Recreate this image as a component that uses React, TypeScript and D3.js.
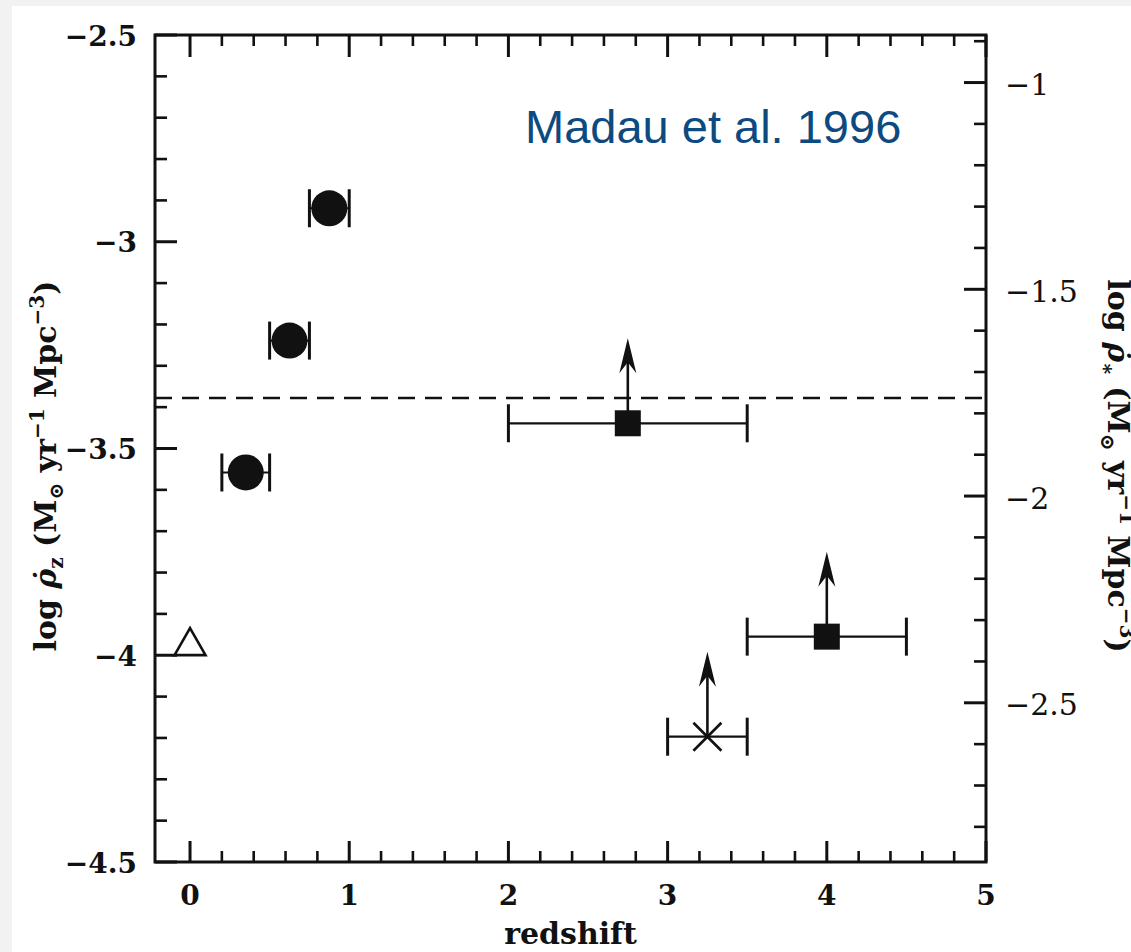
import React from "react";
import * as d3 from "d3";

// Star-formation history measurements (Madau et al. 1996)
// CFRS bins: filled circles
const circleZ = [0.35, 0.625, 0.875];
const circleZLo = [0.2, 0.5, 0.75];
const circleZHi = [0.5, 0.75, 1.0];
const circleRho = [-3.558, -3.239, -2.919];

// HDF U- and B-dropouts: filled squares (lower limits)
const squareZ = [2.75, 4.0];
const squareZLo = [2.0, 3.5];
const squareZHi = [3.5, 4.5];
const squareRho = [-3.439, -3.955];

// Cross (lower limit)
const crossZ = [3.25];
const crossZLo = [3.0];
const crossZHi = [3.5];
const crossRho = [-4.197];

// Local value: open triangle
const triZ = [0];
const triRho = [-3.967];

// Horizontal reference level
const refLevel = -3.378;

// Axes
const xDomain = [-0.22, 5];
const yDomain = [-4.5, -2.5];
const rightOffset = 1.615; // right axis = left axis + offset
const xMajor = [0, 1, 2, 3, 4, 5];
const yMajor = [-2.5, -3, -3.5, -4, -4.5];
const yRightMajor = [-1, -1.5, -2, -2.5];

const W = 1131;
const H = 952;
const PL = 155, PR = 986, PT = 35, PB = 862;

const fmt = (v: number) => String(v).replace("-", "\u2212");

function AxisTitle({ transform, sub }: { transform: string; sub: string }) {
  return (
    <text
      transform={transform}
      textAnchor="middle"
      fontFamily="'DejaVu Serif', serif"
      fontWeight="bold"
      fontSize={30}
      fill="#111"
    >
      log <tspan fontStyle="italic">{"\u03C1\u0307"}</tspan>
      <tspan dy={7} fontSize={20}>{sub}</tspan>
      <tspan dy={-7}> (M</tspan>
      <tspan dy={7} fontSize={20}>{"\u2299"}</tspan>
      <tspan dy={-7}> yr</tspan>
      <tspan dy={-12} fontSize={20}>{"\u22121"}</tspan>
      <tspan dy={12}> Mpc</tspan>
      <tspan dy={-12} fontSize={20}>{"\u22123"}</tspan>
      <tspan dy={12}>)</tspan>
    </text>
  );
}

export default function App() {
  const x = d3.scaleLinear().domain(xDomain).range([PL, PR]);
  const y = d3.scaleLinear().domain(yDomain).range([PB, PT]);
  const yR = d3
    .scaleLinear()
    .domain([yDomain[0] + rightOffset, yDomain[1] + rightOffset])
    .range([PB, PT]);

  const xMinor = d3.range(0, 26).map((i) => i * 0.2).filter((v) => Math.abs(v - Math.round(v)) > 1e-6);
  const yMinor = d3.range(0, 21).map((i) => -2.5 - i * 0.1).filter((v) => Math.abs(v * 2 - Math.round(v * 2)) > 1e-6);
  const yRMinor = d3
    .range(0, 20)
    .map((i) => -0.9 - i * 0.1)
    .filter((v) => Math.abs(v * 2 - Math.round(v * 2)) > 1e-6 && v >= yR.domain()[0] && v <= yR.domain()[1]);

  const serif = "'DejaVu Serif', serif";
  const ink = "#111";
  const arrowLen = 85;
  const capH = 19;

  const errBar = (lo: number, hi: number, rho: number, key: string) => (
    <g key={key} stroke={ink}>
      <line x1={x(lo)} x2={x(hi)} y1={y(rho)} y2={y(rho)} strokeWidth={2.2} />
      <line x1={x(lo)} x2={x(lo)} y1={y(rho) - capH} y2={y(rho) + capH} strokeWidth={3} />
      <line x1={x(hi)} x2={x(hi)} y1={y(rho) - capH} y2={y(rho) + capH} strokeWidth={3} />
    </g>
  );

  const upArrow = (zc: number, rho: number, key: string) => {
    const cx = x(zc);
    const cy = y(rho);
    const tip = cy - arrowLen;
    return (
      <g key={key}>
        <line x1={cx} x2={cx} y1={cy} y2={tip + 20} stroke={ink} strokeWidth={2.6} />
        <path
          d={`M${cx},${tip} L${cx + 8.5},${tip + 35} L${cx},${tip + 24} L${cx - 8.5},${tip + 35} Z`}
          fill={ink}
        />
      </g>
    );
  };

  return (
    <svg
      width={W}
      height={H}
      style={{ position: "fixed", left: 0, top: 0, display: "block" }}
      xmlns="http://www.w3.org/2000/svg"
    >
      <rect x={0} y={0} width={W} height={H} fill="#f2f2f2" />
      <rect x={12} y={6} width={W - 12} height={H - 6} fill="#ffffff" />

      {/* frame */}
      <rect x={PL} y={PT} width={PR - PL} height={PB - PT} fill="none" stroke={ink} strokeWidth={3} />

      {/* bottom & top ticks */}
      {xMajor.map((v) => (
        <g key={"xm" + v} stroke={ink} strokeWidth={3}>
          <line x1={x(v)} x2={x(v)} y1={PB} y2={PB - 21} />
          <line x1={x(v)} x2={x(v)} y1={PT} y2={PT + 22} />
        </g>
      ))}
      {xMinor.map((v) => (
        <g key={"xn" + v} stroke={ink} strokeWidth={2.6}>
          <line x1={x(v)} x2={x(v)} y1={PB} y2={PB - 11} />
          <line x1={x(v)} x2={x(v)} y1={PT} y2={PT + 11} />
        </g>
      ))}

      {/* left ticks */}
      {yMajor.map((v) => (
        <line key={"ym" + v} x1={PL} x2={PL + 22} y1={y(v)} y2={y(v)} stroke={ink} strokeWidth={3} />
      ))}
      {yMinor.map((v) => (
        <line key={"yn" + v} x1={PL} x2={PL + 12} y1={y(v)} y2={y(v)} stroke={ink} strokeWidth={2.6} />
      ))}

      {/* right ticks */}
      {yRightMajor.map((v) => (
        <line key={"rm" + v} x1={PR} x2={PR - 22} y1={yR(v)} y2={yR(v)} stroke={ink} strokeWidth={3} />
      ))}
      {yRMinor.map((v) => (
        <line key={"rn" + v} x1={PR} x2={PR - 12} y1={yR(v)} y2={yR(v)} stroke={ink} strokeWidth={2.6} />
      ))}

      {/* tick labels */}
      <g fontFamily={serif} fontWeight="bold" fontSize={28} fill={ink}>
        {yMajor.map((v) => (
          <text key={"yl" + v} x={137} y={y(v) + 1} textAnchor="end" dominantBaseline="central">
            {fmt(v)}
          </text>
        ))}
        {xMajor.map((v) => (
          <text key={"xl" + v} x={x(v)} y={905} textAnchor="middle">
            {fmt(v)}
          </text>
        ))}
      </g>
      <g fontFamily={serif} fontSize={30} fill={ink}>
        {yRightMajor.map((v) => (
          <text key={"rl" + v} x={1005} y={yR(v) + 2} dominantBaseline="central">
            {fmt(v)}
          </text>
        ))}
      </g>

      {/* axis titles */}
      <text x={(PL + PR) / 2} y={944} textAnchor="middle" fontFamily={serif} fontWeight="bold" fontSize={30} fill={ink}>
        redshift
      </text>
      <AxisTitle transform="translate(56,466) rotate(-90)" sub="z" />
      <AxisTitle transform="translate(1108,466) rotate(90)" sub={"\u2217"} />

      {/* reference level */}
      <line
        x1={PL}
        x2={PR}
        y1={y(refLevel)}
        y2={y(refLevel)}
        stroke={ink}
        strokeWidth={2.5}
        strokeDasharray="17 10"
      />

      {/* circles */}
      {circleZ.map((z, i) => (
        <g key={"c" + i}>
          {errBar(circleZLo[i], circleZHi[i], circleRho[i], "ce" + i)}
          <circle cx={x(z)} cy={y(circleRho[i])} r={18} fill={ink} />
        </g>
      ))}

      {/* squares */}
      {squareZ.map((z, i) => (
        <g key={"s" + i}>
          {errBar(squareZLo[i], squareZHi[i], squareRho[i], "se" + i)}
          {upArrow(z, squareRho[i], "sa" + i)}
          <rect x={x(z) - 13} y={y(squareRho[i]) - 13} width={26} height={26} fill={ink} />
        </g>
      ))}

      {/* cross */}
      {crossZ.map((z, i) => {
        const cx = x(z);
        const cy = y(crossRho[i]);
        return (
          <g key={"x" + i}>
            {errBar(crossZLo[i], crossZHi[i], crossRho[i], "xe" + i)}
            {upArrow(z, crossRho[i], "xa" + i)}
            <path
              d={`M${cx - 14},${cy - 14} L${cx + 14},${cy + 14} M${cx - 14},${cy + 14} L${cx + 14},${cy - 14}`}
              stroke={ink}
              strokeWidth={2.6}
            />
          </g>
        );
      })}

      {/* triangle */}
      {triZ.map((z, i) => {
        const cx = x(z);
        const cy = y(triRho[i]);
        return (
          <path
            key={"t" + i}
            d={`M${cx},${cy - 13.5} L${cx + 15.5},${cy + 13.5} L${cx - 15.5},${cy + 13.5} Z`}
            fill="none"
            stroke={ink}
            strokeWidth={2.6}
            strokeLinejoin="miter"
          />
        );
      })}

      {/* annotation */}
      <text x={525} y={143} fontFamily="'Liberation Sans', Arial, sans-serif" fontSize={47} fill="#0c4a80">
        Madau et al. 1996
      </text>
    </svg>
  );
}
